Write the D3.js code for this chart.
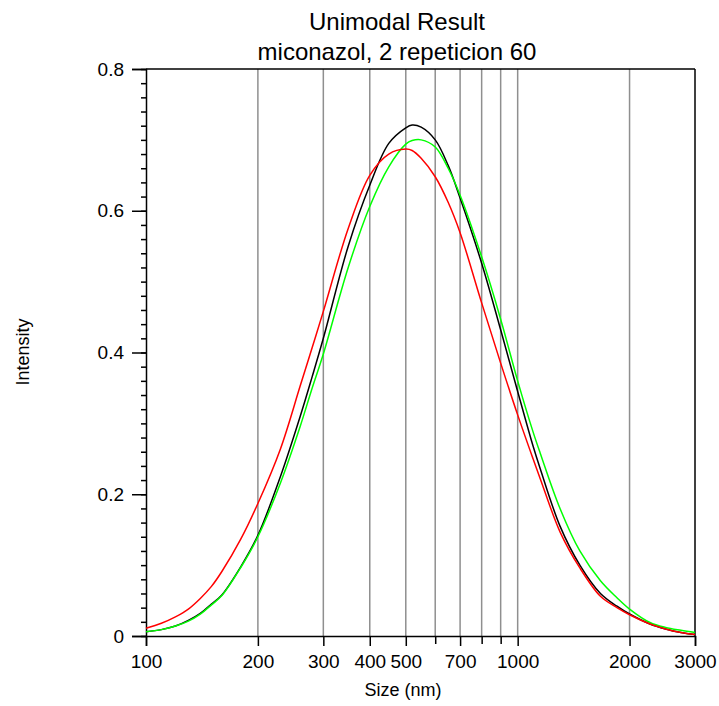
<!DOCTYPE html>
<html>
<head>
<meta charset="utf-8">
<script src="https://cdn.jsdelivr.net/npm/d3@7"></script>
<style>
  body { margin: 0; background: #fff; }
  text { font-family: "Liberation Sans", Arial, sans-serif; fill: #000; }
</style>
</head>
<body>
<svg id="chart" width="719" height="706"></svg>
<script>
// size classes (nm)
const sizes = [100, 110, 120, 130, 140, 150, 160, 180, 200, 230, 260, 280, 300, 350, 400, 450, 500, 520, 550,
  600, 650, 700, 800, 900, 1000, 1100, 1150, 1300, 1470, 1670, 1850, 2000, 2270, 2500, 2750, 3000];

// intensity of the three fits
const blackFit = [0.006, 0.009, 0.014, 0.022, 0.032, 0.045, 0.058, 0.098, 0.142, 0.225, 0.310, 0.366, 0.420, 0.550, 0.636,
  0.695, 0.717, 0.721, 0.718, 0.700, 0.664, 0.618, 0.526, 0.432, 0.345, 0.268, 0.236, 0.155, 0.100, 0.060, 0.042, 0.031,
  0.017, 0.010, 0.005, 0.002];
const greenFit = [0.006, 0.009, 0.014, 0.021, 0.031, 0.044, 0.057, 0.097, 0.140, 0.216, 0.296, 0.350, 0.398, 0.520, 0.606,
  0.662, 0.694, 0.699, 0.700, 0.690, 0.660, 0.622, 0.535, 0.447, 0.360, 0.288, 0.258, 0.180, 0.120, 0.078, 0.054, 0.038,
  0.019, 0.012, 0.008, 0.005];
const redFit = [0.011, 0.018, 0.027, 0.038, 0.053, 0.070, 0.091, 0.137, 0.187, 0.264, 0.353, 0.407, 0.458, 0.575, 0.650,
  0.680, 0.687, 0.685, 0.674, 0.648, 0.612, 0.569, 0.470, 0.385, 0.312, 0.250, 0.222, 0.147, 0.096, 0.056, 0.040, 0.030,
  0.017, 0.010, 0.005, 0.002];

const xTicks = [100, 200, 300, 400, 500, 700, 1000, 2000, 3000];
const xMinorTicks = [600, 800, 900];
const gridSizes = [200, 300, 400, 500, 600, 700, 800, 900, 1000, 2000];
const yTicks = [0, 0.2, 0.4, 0.6, 0.8];

const svg = d3.select("#chart");
const plotL = 146, plotR = 695, plotT = 69, plotB = 636;

const x = d3.scaleLog().domain([100, 3000]).range([plotL, plotR]);
const y = d3.scaleLinear().domain([0, 0.8]).range([plotB, plotT]);

// titles
svg.append("text").attr("x", 397).attr("y", 30).attr("text-anchor", "middle")
  .style("font-size", "24px").text("Unimodal Result");
svg.append("text").attr("x", 397).attr("y", 60).attr("text-anchor", "middle")
  .style("font-size", "24px").text("miconazol, 2 repeticion 60");

// vertical grid lines
svg.append("g").selectAll("line").data(gridSizes).enter().append("line")
  .attr("x1", d => x(d)).attr("x2", d => x(d))
  .attr("y1", plotT).attr("y2", plotB)
  .attr("stroke", "#8f8f8f").attr("stroke-width", 1.5);

// y axis, major + minor
const yMinor = svg.append("g").attr("transform", "translate(" + plotL + ",0)")
  .call(d3.axisLeft(y).tickValues(d3.range(0, 0.801, 0.02)).tickSize(5).tickFormat(""));
yMinor.select(".domain").remove();
const yAxis = svg.append("g").attr("transform", "translate(" + plotL + ",0)")
  .call(d3.axisLeft(y).tickValues(yTicks).tickSize(14).tickPadding(8)
    .tickFormat(d => d === 0 ? "0" : d3.format(".1f")(d)));
yAxis.selectAll("text").style("font-size", "19px");

// x axis
const xMinor = svg.append("g").attr("transform", "translate(0," + plotB + ")")
  .call(d3.axisBottom(x).tickValues(xMinorTicks).tickSize(8).tickFormat(""));
xMinor.select(".domain").remove();
const xAxis = svg.append("g").attr("transform", "translate(0," + plotB + ")")
  .call(d3.axisBottom(x).tickValues(xTicks).tickSize(10).tickPadding(9).tickFormat(d3.format("d")));
xAxis.selectAll("text").style("font-size", "19px");

svg.selectAll(".domain, .tick line").attr("stroke", "#000").attr("stroke-width", 1.5);

// box top / right
svg.append("line").attr("x1", plotL).attr("x2", plotR).attr("y1", plotT).attr("y2", plotT)
  .attr("stroke", "#000").attr("stroke-width", 1.5);
svg.append("line").attr("x1", plotR).attr("x2", plotR).attr("y1", plotT).attr("y2", plotB)
  .attr("stroke", "#000").attr("stroke-width", 1.5);

// axis titles
svg.append("text").attr("x", 403).attr("y", 696).attr("text-anchor", "middle")
  .style("font-size", "18px").text("Size (nm)");
svg.append("text").attr("transform", "translate(29,352) rotate(-90)").attr("text-anchor", "middle")
  .style("font-size", "18px").text("Intensity");

// curves
const line = d3.line()
  .x((d, i) => x(sizes[i]))
  .y(d => y(d))
  .curve(d3.curveCatmullRom.alpha(0.5));

[[blackFit, "#000"], [greenFit, "#00ff00"], [redFit, "#ff0000"]].forEach(s => {
  svg.append("path").datum(s[0])
    .attr("d", line)
    .attr("fill", "none")
    .attr("stroke", s[1])
    .attr("stroke-width", 1.5);
});
</script>
</body>
</html>
